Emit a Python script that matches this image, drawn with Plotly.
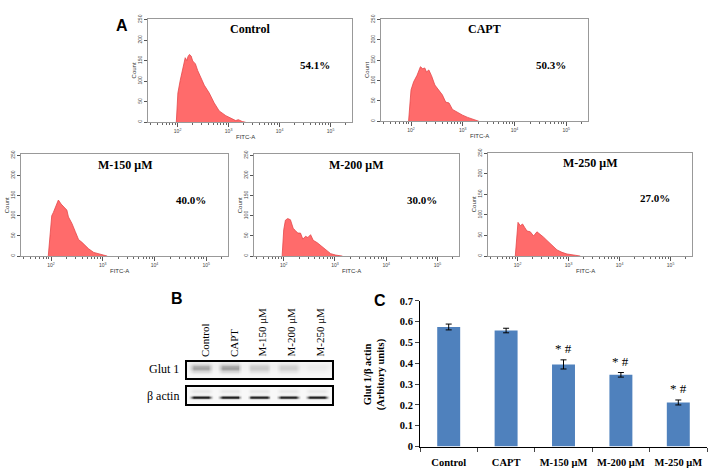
import numpy as np
import plotly.graph_objects as go

W, H = 711, 476

# ---------------- DATA ----------------
hist_names = ["Control", "CAPT", "M-150 μM", "M-200 μM", "M-250 μM"]
hist_pcts = ["54.1%", "50.3%", "40.0%", "30.0%", "27.0%"]

# log10(FITC-A) positions and counts
control_log = [1.975, 2.006, 2.052, 2.103, 2.150, 2.181, 2.205, 2.233, 2.266, 2.297, 2.350, 2.394,
               2.460, 2.524, 2.575, 2.621, 2.718, 2.816, 2.946, 3.043, 3.140, 3.190, 3.268, 3.334]
control_cnt = [0, 71, 102, 133, 157, 150, 160, 165, 161, 149, 142, 126,
               106, 90, 80, 71, 47, 27.5, 16, 9.4, 4, 6.3, 1.6, 0]

capt_log = [1.953, 2.000, 2.051, 2.117, 2.182, 2.227, 2.266, 2.299, 2.344, 2.396, 2.461, 2.539,
            2.605, 2.670, 2.734, 2.801, 2.898, 2.996, 3.094, 3.191, 3.309]
capt_cnt = [0, 77, 97, 113, 134, 129, 131, 121, 126, 112, 89, 77,
            65, 47, 45, 29, 21.4, 15, 9.5, 5.5, 0]

m150_log = [1.947, 2.014, 2.045, 2.092, 2.142, 2.195, 2.259, 2.306, 2.337, 2.404, 2.468, 2.532,
            2.598, 2.663, 2.727, 2.825, 2.922, 3.086]
m150_cnt = [0, 100, 108, 125, 139, 129, 121, 114, 97, 81, 61, 41,
            34, 25, 18, 9, 5, 0]

m200_log = [1.969, 2.000, 2.033, 2.078, 2.131, 2.184, 2.229, 2.275, 2.327, 2.373, 2.425, 2.471,
            2.524, 2.576, 2.655, 2.720, 2.784, 2.851, 2.916, 3.014, 3.145]
m200_cnt = [0, 65, 89, 93, 90, 69, 63, 57, 57, 42, 49, 46,
            53, 39, 33, 26, 21, 13, 6, 2.4, 0]

m250_log = [1.955, 2.008, 2.053, 2.098, 2.137, 2.184, 2.249, 2.314, 2.380, 2.445, 2.510, 2.576,
            2.641, 2.706, 2.773, 2.871, 2.969, 3.131, 3.229]
m250_cnt = [0, 82, 74, 78, 70, 61, 59, 49, 59, 53, 46, 38,
            31, 22, 15, 9, 5, 2, 0]

hist_logs = [control_log, capt_log, m150_log, m200_log, m250_log]
hist_cnts = [control_cnt, capt_cnt, m150_cnt, m200_cnt, m250_cnt]

x_tick_vals = [1e2, 1e3, 1e4, 1e5]
x_tick_text = ["10<sup>2</sup>", "10<sup>3</sup>", "10<sup>4</sup>", "10<sup>5</sup>"]
y_tick_vals = [0, 50, 100, 150, 200, 250]

# Western blot (panel B)
lane_labels = ["Control", "CAPT", "M-150 μM", "M-200 μM", "M-250 μM"]
glut1_int = [0.40, 0.42, 0.25, 0.21, 0.04]
actin_int = [0.95, 0.95, 0.93, 0.93, 0.95]

# Bar chart (panel C)
bar_cats = ["Control", "CAPT", "M-150 μM", "M-200 μM", "M-250 μM"]
bar_vals = [0.575, 0.558, 0.395, 0.345, 0.212]
bar_errs = [0.014, 0.011, 0.022, 0.011, 0.012]
bar_marks = ["", "", "* #", "* #", "* #"]
bar_ytick_vals = [0, 0.1, 0.2, 0.3, 0.4, 0.5, 0.6, 0.7]
bar_ytick_text = ["0", "0.1", "0.2", "0.3", "0.4", "0.5", "0.6", "0.7"]

# ---------------- LAYOUT HELPERS ----------------
def PX(x):
    return x / W

def PY(y):
    return 1 - y / H

SERIF = "Liberation Serif, Times New Roman, serif"
SANS = "Liberation Sans, Arial, sans-serif"

# histogram boxes (left, right, top, bottom) in pixels
hist_boxes = [(148, 352, 14, 120), (381, 588, 14, 119), (21, 228, 153, 257),
              (254, 459, 153, 257), (488, 692, 151, 257)]

minor_vals = [k * 10 ** d for d in range(1, 6) for k in range(2, 10)]

fig = go.Figure()
layout = dict(width=W, height=H, margin=dict(l=0, r=0, t=0, b=0),
              paper_bgcolor="white", plot_bgcolor="white", showlegend=False,
              annotations=[])
ann = layout["annotations"]


def note(px, py, text, size, family, color="black", angle=0, xanchor="center", yanchor="middle"):
    ann.append(dict(x=PX(px), y=PY(py), xref="paper", yref="paper", text=text,
                    showarrow=False, textangle=angle, xanchor=xanchor, yanchor=yanchor,
                    font=dict(family=family, size=size, color=color)))


for i in range(5):
    n = i + 1
    xa = "x" if n == 1 else f"x{n}"
    ya = "y" if n == 1 else f"y{n}"
    xs = [10 ** v for v in hist_logs[i]]
    fig.add_trace(go.Scatter(x=xs, y=hist_cnts[i], mode="lines", fill="tozeroy",
                             fillcolor="#FF6B6B", line=dict(color="#E5484A", width=0.8),
                             xaxis=xa, yaxis=ya, hoverinfo="skip"))
    l, r, t, b = hist_boxes[i]
    layout["xaxis" if n == 1 else f"xaxis{n}"] = dict(
        domain=[PX(l), PX(r)], anchor=ya, type="log", range=[1.42, 5.42],
        tickvals=x_tick_vals, ticktext=x_tick_text, ticks="outside", ticklen=4,
        tickcolor="#555", tickfont=dict(size=5, color="#444", family=SANS),
        showline=True, mirror=True, linecolor="#999", linewidth=1,
        showgrid=False, zeroline=False,
        minor=dict(tickvals=minor_vals, ticks="outside", ticklen=2, tickcolor="#666"))
    layout["yaxis" if n == 1 else f"yaxis{n}"] = dict(
        domain=[PY(b), PY(t)], anchor=xa, range=[0, 252],
        tickvals=y_tick_vals, tickangle=-90, ticks="outside", ticklen=3,
        tickcolor="#555", tickfont=dict(size=5, color="#444", family=SANS),
        showline=True, mirror=True, linecolor="#999", linewidth=1,
        showgrid=False, zeroline=False)
    cx = (l + r) / 2
    note(l + (r - l) * 0.5, t + 11, f"<b>{hist_names[i]}</b>", 12, SERIF)
    note(l + (r - l) * 0.82, t + 47, f"<b>{hist_pcts[i]}</b>", 11, SERIF)
    note(cx - 5, b + 15, "FITC-A", 6, SANS, "#333")
    note(l - 14, (t + b) / 2, "Count", 6, SANS, "#333", angle=-90)

# ---------------- Panel B : blot ----------------
nx, ny = 160, 30
gx = np.linspace(-0.5, 4.5, nx)
gy = np.linspace(0, 1, ny)
lane_idx = np.clip(np.round(gx), 0, 4).astype(int)
dx = np.abs(gx - lane_idx)
lane_prof = np.clip((0.42 - dx) / 0.16, 0, 1)

glut_arr = np.array(glut1_int)[lane_idx] * lane_prof
z_glut = (np.exp(-((gy[:, None] - 0.58) / 0.25) ** 2) * glut_arr[None, :]
          + 0.05 * np.exp(-((gy[:, None] - 0.7) / 0.3) ** 2))
act_arr = np.array(actin_int)[lane_idx] * lane_prof
z_act = (np.exp(-((gy[:, None] - 0.35) / 0.09) ** 2) * act_arr[None, :]
         + 0.10 * np.exp(-((gy[:, None] - 0.72) / 0.15) ** 2) * lane_prof[None, :])

blot_scale = [[0, "#f8f8f8"], [0.3, "#c8c8c8"], [0.6, "#7a7a7a"], [1, "#151515"]]
fig.add_trace(go.Heatmap(x=gx, y=gy, z=z_glut, zmin=0, zmax=1, colorscale=blot_scale,
                         showscale=False, xaxis="x6", yaxis="y6", hoverinfo="skip"))
fig.add_trace(go.Heatmap(x=gx, y=gy, z=z_act, zmin=0, zmax=1, colorscale=blot_scale,
                         showscale=False, xaxis="x7", yaxis="y7", hoverinfo="skip"))
blot_l, blot_r = 187, 332
for n, (t, b) in zip((6, 7), ((365, 382), (391, 408))):
    layout[f"xaxis{n}"] = dict(domain=[PX(blot_l), PX(blot_r)], anchor=f"y{n}",
                               range=[-0.5, 4.5], showticklabels=False, ticks="",
                               showline=True, mirror=True, linecolor="black", linewidth=2,
                               showgrid=False, zeroline=False)
    layout[f"yaxis{n}"] = dict(domain=[PY(b), PY(t)], anchor=f"x{n}", range=[0, 1],
                               showticklabels=False, ticks="",
                               showline=True, mirror=True, linecolor="black", linewidth=2,
                               showgrid=False, zeroline=False)
for j, lab in enumerate(lane_labels):
    ann.append(dict(x=j + 0.1, y=PY(362), xref="x6", yref="paper", xanchor="center",
                    yanchor="bottom", text=lab, textangle=-90, showarrow=False,
                    font=dict(family=SERIF, size=11, color="black")))
note(181, 373, "Glut 1", 12, SERIF, xanchor="right")
note(181, 400, "β actin", 12, SERIF, xanchor="right")

# ---------------- Panel C : bars ----------------
fig.add_trace(go.Bar(x=bar_cats, y=bar_vals, width=0.4, marker=dict(color="#4F81BD", line=dict(width=0)),
                     error_y=dict(type="data", array=bar_errs, color="black", thickness=1, width=3),
                     xaxis="x8", yaxis="y8", hoverinfo="skip"))
layout["xaxis8"] = dict(domain=[PX(420), PX(707)], anchor="y8", showline=True, linecolor="black",
                        linewidth=1, ticks="outside", ticklen=4, tickson="boundaries",
                        tickvals=bar_cats, ticktext=[f"<b>{c}</b>" for c in bar_cats],
                        tickangle=0, tickfont=dict(family=SERIF, size=10.5, color="black"),
                        ticklabelstandoff=6, showgrid=False, zeroline=False)
layout["yaxis8"] = dict(domain=[PY(452), PY(303)], anchor="x8", range=[0, 0.7],
                        tickvals=bar_ytick_vals, ticktext=[f"<b>{t}</b>" for t in bar_ytick_text],
                        ticks="outside", ticklen=4, showline=True, linecolor="black", linewidth=1,
                        tickfont=dict(family=SERIF, size=10.5, color="black"),
                        showgrid=False, zeroline=False)
for c, v, e, m in zip(bar_cats, bar_vals, bar_errs, bar_marks):
    if m:
        ann.append(dict(x=c, y=v + e, xref="x8", yref="y8", xanchor="center", yanchor="bottom",
                        yshift=2, text=m, showarrow=False,
                        font=dict(family=SERIF, size=13, color="black")))
note(375, 378, "<b>Glut 1/β actin<br>(Arbitory units)</b>", 10.5, SERIF, angle=-90)

# panel letters
note(122, 21, "<b>A</b>", 16, SANS)
note(177, 300, "<b>B</b>", 16, SANS)
note(380, 303, "<b>C</b>", 16, SANS)

fig.update_layout(**layout)
fig.write_html("out.html", config={"displayModeBar": False},
               post_script="document.body.style.margin='0';document.body.style.padding='0';"
                           "document.body.style.overflow='hidden';")
